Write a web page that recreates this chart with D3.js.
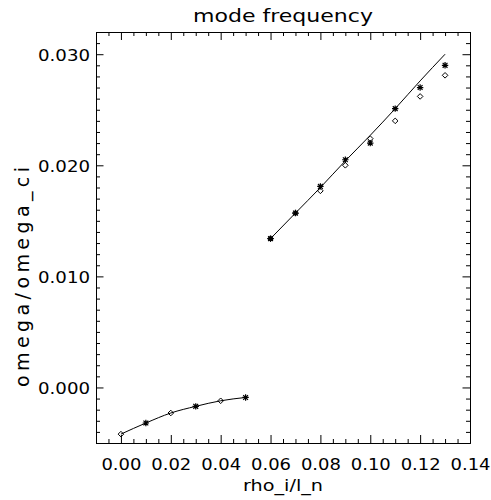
<!DOCTYPE html>
<html>
<head>
<meta charset="utf-8">
<script src="https://cdn.jsdelivr.net/npm/d3@7"></script>
<style>
  html, body { margin: 0; padding: 0; background: #fff; }
  svg { display: block; }
  text { font-family: "DejaVu Sans", sans-serif; fill: #000; }
</style>
</head>
<body>
<svg id="chart" width="491" height="500"></svg>
<script>
// ---- data ----
const title = "mode frequency";
const xLabel = "rho_i/l_n";
const yLabel = "omega/omega_ci";

const xMajorTicks = [0.00, 0.02, 0.04, 0.06, 0.08, 0.10, 0.12, 0.14];
const yMajorTicks = [0.000, 0.010, 0.020, 0.030];

// lower branch
const lowerLineX = [0.00, 0.01, 0.02, 0.03, 0.04, 0.05];
const lowerLineY = [-0.0042, -0.0032, -0.0023, -0.0017, -0.0012, -0.0009];
const lowerDiamondX = [0.00, 0.02, 0.04];
const lowerDiamondY = [-0.0042, -0.0023, -0.0012];
const lowerStarX = [0.01, 0.03, 0.05];
const lowerStarY = [-0.0032, -0.0017, -0.0009];

// upper branch
const upperLineX = [0.06, 0.07, 0.08, 0.09, 0.10, 0.11, 0.12, 0.13];
const upperLineY = [0.0134, 0.0157, 0.0180, 0.0204, 0.0227, 0.0251, 0.0276, 0.0300];
const upperStarX = [0.06, 0.07, 0.08, 0.09, 0.10, 0.11, 0.12, 0.13];
const upperStarY = [0.0134, 0.0157, 0.0181, 0.0205, 0.0220, 0.0251, 0.0270, 0.0290];
const upperDiamondX = [0.06, 0.07, 0.08, 0.09, 0.10, 0.11, 0.12, 0.13];
const upperDiamondY = [0.0134, 0.0157, 0.0177, 0.0200, 0.0224, 0.0240, 0.0262, 0.0281];

// ---- layout ----
const L = 96, R = 470, T = 32, B = 443;
const svg = d3.select("#chart");

const x = d3.scaleLinear().domain([-0.01, 0.14]).range([L, R]);
const y = d3.scaleLinear().domain([-0.005, 0.032]).range([B, T]);

const xMinor = d3.range(-0.01, 0.1401, 0.005).map(v => +v.toFixed(4));
const yMinor = d3.range(-0.005, 0.03201, 0.001).map(v => +v.toFixed(4));
const xMinorOnly = xMinor.filter(v => !xMajorTicks.some(m => Math.abs(m - v) < 1e-9));
const yMinorOnly = yMinor.filter(v => !yMajorTicks.some(m => Math.abs(m - v) < 1e-9));

const fmtX = d3.format(".2f"), fmtY = d3.format(".3f");

function addAxis(axisGen, transform) {
  const g = svg.append("g").attr("transform", transform).call(axisGen);
  g.selectAll("path.domain").attr("stroke", "#000").attr("stroke-width", 1);
  g.selectAll(".tick line").attr("stroke", "#000").attr("stroke-width", 1);
  return g;
}

// bottom axis (major with labels)
const gb = addAxis(d3.axisBottom(x).tickValues(xMajorTicks).tickSize(-8).tickSizeOuter(0).tickPadding(0).tickFormat(fmtX), `translate(0,${B})`);
gb.selectAll(".tick text").attr("y", 27).attr("dy", 0).attr("font-size", 16)
  .attr("textLength", 40).attr("lengthAdjust", "spacingAndGlyphs");
addAxis(d3.axisBottom(x).tickValues(xMinorOnly).tickSize(-4).tickSizeOuter(0).tickFormat(""), `translate(0,${B})`);
// top axis
addAxis(d3.axisTop(x).tickValues(xMajorTicks).tickSize(-8).tickSizeOuter(0).tickFormat(""), `translate(0,${T})`);
addAxis(d3.axisTop(x).tickValues(xMinorOnly).tickSize(-4).tickSizeOuter(0).tickFormat(""), `translate(0,${T})`);
// left axis
const gl = addAxis(d3.axisLeft(y).tickValues(yMajorTicks).tickSize(-7.5).tickSizeOuter(0).tickPadding(0).tickFormat(fmtY), `translate(${L},0)`);
gl.selectAll(".tick text").attr("x", -6).attr("dy", 6).attr("font-size", 16)
  .attr("text-anchor", "end").attr("textLength", 52).attr("lengthAdjust", "spacingAndGlyphs");
addAxis(d3.axisLeft(y).tickValues(yMinorOnly).tickSize(-4).tickSizeOuter(0).tickFormat(""), `translate(${L},0)`);
// right axis
addAxis(d3.axisRight(y).tickValues(yMajorTicks).tickSize(-7.5).tickSizeOuter(0).tickFormat(""), `translate(${R},0)`);
addAxis(d3.axisRight(y).tickValues(yMinorOnly).tickSize(-4).tickSizeOuter(0).tickFormat(""), `translate(${R},0)`);

svg.selectAll("g").attr("font-family", null);

// ---- lines ----
const line = d3.line().x(d => x(d[0])).y(d => y(d[1])).curve(d3.curveMonotoneX);
svg.append("path").datum(d3.zip(lowerLineX, lowerLineY))
  .attr("d", line).attr("fill", "none").attr("stroke", "#000").attr("stroke-width", 1);
svg.append("path").datum(d3.zip(upperLineX, upperLineY))
  .attr("d", line).attr("fill", "none").attr("stroke", "#000").attr("stroke-width", 1);

// ---- markers ----
function diamonds(xs, ys) {
  const r = 2.8;
  svg.append("g").selectAll("path").data(d3.zip(xs, ys)).join("path")
    .attr("d", d => { const cx = x(d[0]), cy = y(d[1]);
      return `M${cx},${cy - r}L${cx + r},${cy}L${cx},${cy + r}L${cx - r},${cy}Z`; })
    .attr("fill", "none").attr("stroke", "#000").attr("stroke-width", 1);
}
function stars(xs, ys) {
  const r = 3.2, q = r * 0.75;
  svg.append("g").selectAll("path").data(d3.zip(xs, ys)).join("path")
    .attr("d", d => { const cx = x(d[0]), cy = y(d[1]);
      return `M${cx - r},${cy}L${cx + r},${cy}M${cx},${cy - r}L${cx},${cy + r}` +
             `M${cx - q},${cy - q}L${cx + q},${cy + q}M${cx - q},${cy + q}L${cx + q},${cy - q}`; })
    .attr("fill", "none").attr("stroke", "#000").attr("stroke-width", 1.2);
}
diamonds(lowerDiamondX, lowerDiamondY);
stars(lowerStarX, lowerStarY);
diamonds(upperDiamondX, upperDiamondY);
stars(upperStarX, upperStarY);

// ---- titles ----
const cx = (L + R) / 2;
svg.append("text").attr("x", cx).attr("y", 22).attr("text-anchor", "middle")
  .attr("font-size", 17).attr("textLength", 180).attr("lengthAdjust", "spacingAndGlyphs").text(title);
svg.append("text").attr("x", cx).attr("y", 491).attr("text-anchor", "middle")
  .attr("font-size", 16).attr("textLength", 80).attr("lengthAdjust", "spacingAndGlyphs").text(xLabel);
svg.append("text").attr("transform", `translate(29,277) rotate(-90)`).attr("text-anchor", "middle")
  .attr("font-size", 19).attr("textLength", 220).attr("lengthAdjust", "spacing").text(yLabel);
</script>
</body>
</html>
